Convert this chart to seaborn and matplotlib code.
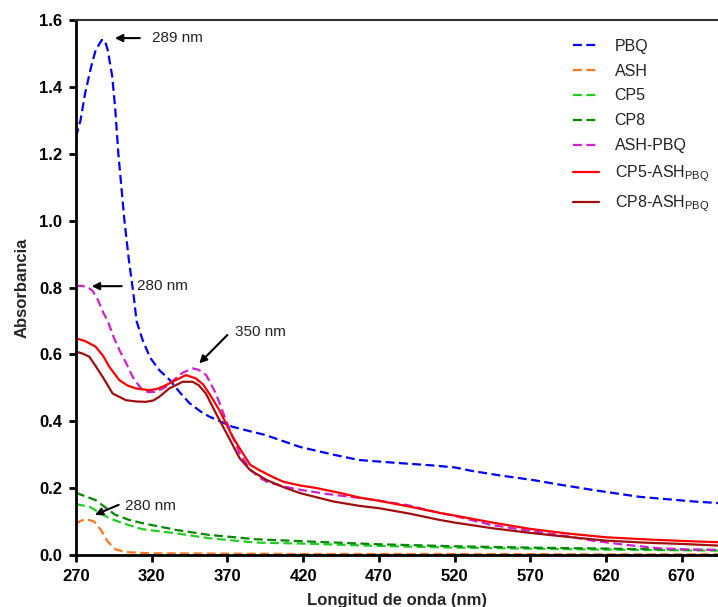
import matplotlib
matplotlib.use("Agg")
import matplotlib.pyplot as plt
import seaborn as sns
import pandas as pd

# ── Spectra (wavelength nm, absorbance) ───────────────────────────────────────
pbq_nm  = [270, 273, 276, 280, 283, 287, 289, 291, 294, 296, 298, 300, 302, 305, 308,
           310, 314, 319, 325, 332, 339, 345, 352, 358, 365, 373, 385, 395, 418, 440,
           457, 480, 505, 520, 532, 550, 572, 590, 612, 642, 660, 678, 695]
pbq_abs = [1.25, 1.30, 1.38, 1.46, 1.51, 1.54, 1.54, 1.51, 1.43, 1.33, 1.20, 1.10, 1.00, 0.88, 0.78,
           0.70, 0.643, 0.59, 0.553, 0.523, 0.484, 0.454, 0.43, 0.414, 0.40, 0.384, 0.37, 0.359, 0.323, 0.30,
           0.284, 0.276, 0.268, 0.262, 0.251, 0.238, 0.224, 0.21, 0.194, 0.174, 0.167, 0.16, 0.155]

ash_nm  = [270, 273, 277, 282, 286.5, 291, 296, 300, 305, 320, 370, 420, 520, 620, 695]
ash_abs = [0.093, 0.102, 0.107, 0.100, 0.075, 0.040, 0.017, 0.012, 0.008, 0.005, 0.004, 0.003, 0.003, 0.002, 0.002]

cp5_nm  = [270, 279, 292, 303, 314, 325, 336, 358, 389, 420, 470, 520, 570, 620, 670, 695]
cp5_abs = [0.152, 0.144, 0.110, 0.092, 0.077, 0.071, 0.065, 0.050, 0.037, 0.034, 0.027, 0.022, 0.019, 0.016, 0.014, 0.013]

cp8_nm  = [270, 283, 296, 305, 314, 325, 336, 358, 389, 420, 470, 520, 570, 620, 670, 695]
cp8_abs = [0.186, 0.164, 0.120, 0.105, 0.095, 0.085, 0.075, 0.060, 0.047, 0.041, 0.032, 0.026, 0.022, 0.019, 0.016, 0.015]

ashpbq_nm  = [270, 274, 278, 281, 284.5, 288, 291, 295, 299, 303, 307.4, 311, 314, 318, 322,
              326, 329.4, 335, 340.4, 347, 351, 356, 362.4, 369, 373.4, 378, 385, 391, 396, 407,
              418, 435, 451, 467, 490, 510, 520, 544, 570, 596, 611, 630, 655, 675, 695]
ashpbq_abs = [0.805, 0.805, 0.80, 0.79, 0.763, 0.725, 0.70, 0.65, 0.61, 0.575, 0.533, 0.51, 0.493, 0.487, 0.488,
              0.495, 0.503, 0.525, 0.545, 0.558, 0.554, 0.538, 0.483, 0.404, 0.354, 0.305, 0.256, 0.232, 0.219, 0.205,
              0.195, 0.183, 0.174, 0.165, 0.148, 0.126, 0.117, 0.090, 0.072, 0.055, 0.043, 0.032, 0.020, 0.016, 0.015]

cp5ash_nm  = [270, 276, 283, 288, 292, 298.6, 304, 309.6, 318.4, 323, 327.2, 336, 342.6, 349.2, 354,
              358, 364.6, 373.4, 378, 385, 391, 400, 407, 418, 429, 445, 457, 470, 490, 510,
              520, 545, 570, 595, 620, 645, 670, 695]
cp5ash_abs = [0.648, 0.64, 0.623, 0.595, 0.563, 0.523, 0.507, 0.498, 0.493, 0.496, 0.503, 0.523, 0.538, 0.528, 0.51,
              0.483, 0.434, 0.354, 0.32, 0.27, 0.254, 0.233, 0.219, 0.208, 0.20, 0.185, 0.172, 0.162, 0.145, 0.126,
              0.118, 0.097, 0.078, 0.064, 0.053, 0.047, 0.042, 0.038]

cp8ash_nm  = [270, 274, 278.8, 283, 287.6, 294.2, 303, 310, 316.2, 321, 325, 331.6, 336, 340.4, 347,
              351, 355.8, 362.4, 371.2, 378, 385, 396, 407, 418, 440, 457, 470, 490, 510, 520,
              545, 570, 595, 620, 645, 670, 695]
cp8ash_abs = [0.608, 0.603, 0.593, 0.565, 0.533, 0.483, 0.463, 0.459, 0.458, 0.462, 0.473, 0.498, 0.508, 0.518, 0.518,
              0.508, 0.483, 0.424, 0.349, 0.29, 0.254, 0.224, 0.203, 0.185, 0.16, 0.147, 0.14, 0.124, 0.105, 0.097,
              0.08, 0.066, 0.054, 0.043, 0.037, 0.033, 0.028]

series_names = ["PBQ", "ASH", "CP5", "CP8", "ASH-PBQ",
                "CP5-ASH$_{\\mathregular{PBQ}}$", "CP8-ASH$_{\\mathregular{PBQ}}$"]
series_data  = [(pbq_nm, pbq_abs), (ash_nm, ash_abs), (cp5_nm, cp5_abs), (cp8_nm, cp8_abs),
                (ashpbq_nm, ashpbq_abs), (cp5ash_nm, cp5ash_abs), (cp8ash_nm, cp8ash_abs)]
series_colors = ["#0000ff", "#ff7722", "#22cc22", "#008800", "#cc22cc", "#ff0000", "#a00f0f"]
dashed = [True, True, True, True, True, False, False]

x_ticks = [270, 320, 370, 420, 470, 520, 570, 620, 670]
y_ticks = [0.0, 0.2, 0.4, 0.6, 0.8, 1.0, 1.2, 1.4, 1.6]

# ── Figure ────────────────────────────────────────────────────────────────────
sns.set_style("white")
plt.rcParams["font.family"] = ["Liberation Sans", "DejaVu Sans"]

fig = plt.figure(figsize=(7.18, 6.07), dpi=100)
ax = fig.add_axes([0.1058, 0.0857, 0.8942, 0.8813])

for name, (nm, ab), col, dsh in zip(series_names, series_data, series_colors, dashed):
    df = pd.DataFrame({"nm": nm, "abs": ab})
    sns.lineplot(data=df, x="nm", y="abs", ax=ax, color=col, label=name,
                 linewidth=1.6, errorbar=None, sort=True,
                 linestyle=(0, (4, 2)) if dsh else "-")

ax.set_xlim(270, 694)
ax.set_ylim(0, 1.6)
ax.set_xticks(x_ticks)
ax.set_yticks(y_ticks)
ax.set_yticklabels([f"{v:.1f}" for v in y_ticks])
for lab in ax.get_xticklabels() + ax.get_yticklabels():
    lab.set_fontweight("bold")
ax.tick_params(axis="both", direction="out", length=5, width=2, labelsize=12,
               pad=5, colors="black", bottom=True, left=True)

for side in ["left", "bottom"]:
    ax.spines[side].set_linewidth(2)
    ax.spines[side].set_color("black")
ax.spines["top"].set_linewidth(1.5)
ax.spines["top"].set_color("#333333")
ax.spines["right"].set_visible(False)

ax.set_xlabel("Longitud de onda (nm)", fontsize=12, fontweight="bold")
ax.set_ylabel("Absorbancia", fontsize=12, fontweight="bold")
ax.xaxis.set_label_coords(0.5, -0.071)
ax.yaxis.set_label_coords(-0.073, 0.5)

# ── Peak annotations ─────────────────────────────────────────────────────────
arrows = [
    ((295.7, 1.546), (312.2, 1.546), (320.2, 1.546), "289 nm"),
    ((280.4, 0.804), (300.2, 0.804), (310.0, 0.804), "280 nm"),
    ((351.4, 0.573), (370.0, 0.658), (375.2, 0.668), "350 nm"),
    ((282.5, 0.120), (298.2, 0.150), (302.5, 0.147), "280 nm"),
]
for tip, tail, txt_pos, txt in arrows:
    ax.annotate("", xy=tip, xytext=tail,
                arrowprops=dict(arrowstyle="-|>", color="black", lw=1.5,
                                mutation_scale=11, shrinkA=0, shrinkB=0))
    ax.text(txt_pos[0], txt_pos[1], txt, fontsize=11, color="#222222",
            ha="left", va="center")

leg = ax.legend(loc="upper left", bbox_to_anchor=(0.752, 0.992), frameon=False,
                fontsize=11.5, handlelength=1.6, handletextpad=1.0, labelspacing=0.62)
for t in leg.get_texts():
    t.set_color("#222222")

fig.savefig("out.png", dpi=100)
